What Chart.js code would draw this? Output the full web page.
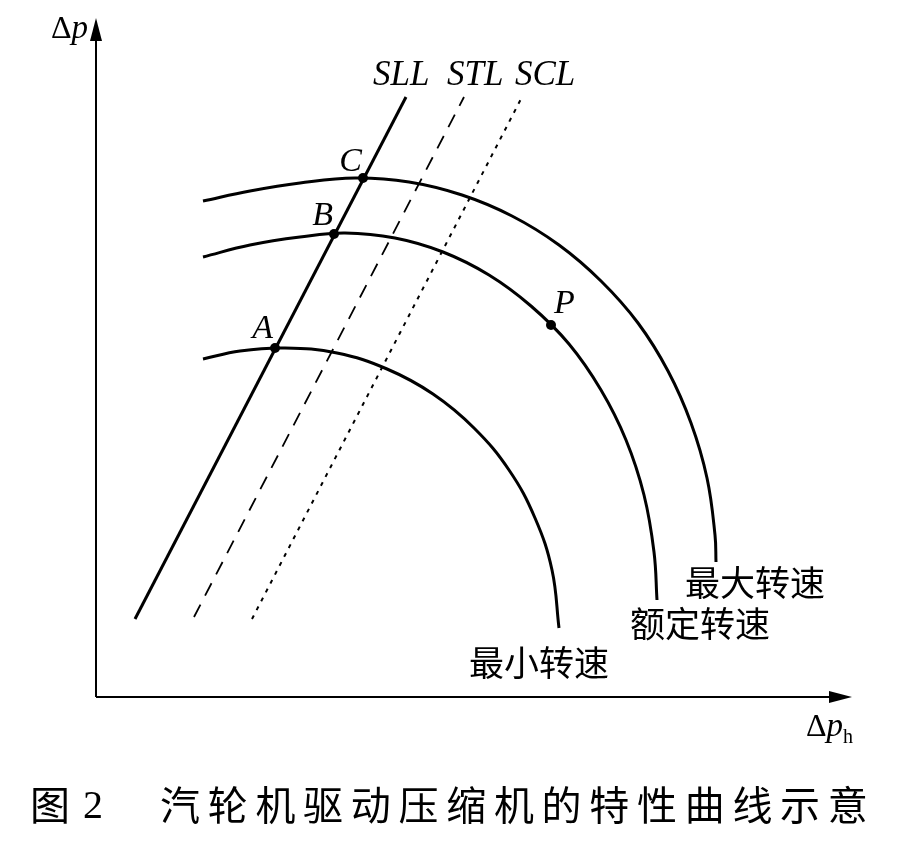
<!DOCTYPE html>
<html>
<head>
<meta charset="utf-8">
<script src="https://cdn.jsdelivr.net/npm/chart.js@4.4.1/dist/chart.umd.min.js"></script>
<style>
  html, body { margin: 0; padding: 0; background: #fff; }
  #wrap { width: 903px; height: 841px; }
</style>
</head>
<body>
<div id="wrap"><canvas id="chart" width="903" height="841"></canvas></div>
<script>
// speed curves (Δp_h on x, Δp on y, arbitrary units from the axis origin)
const maxSpeedX = [107, 154, 204, 259, 313, 366, 416, 463, 505, 542, 572, 595, 611, 619, 620];
const maxSpeedY = [496, 506, 514, 519, 515, 502, 481, 452, 416, 374, 326, 274, 219, 162, 135];

const ratedSpeedX = [107, 154, 204, 249, 299, 347, 393, 435, 473, 505, 530, 548, 558, 561];
const ratedSpeedY = [440, 452, 460, 464, 459, 445, 422, 391, 353, 307, 257, 202, 145, 97];

const minSpeedX = [107, 144, 189, 241, 291, 337, 378, 413, 439, 456, 463];
const minSpeedY = [338, 346, 349, 344, 328, 303, 269, 227, 179, 127, 69];

// SLL / STL / SCL lines (bottom, top)
const sllX = [39, 310];
const sllY = [78, 600];
const stlX = [98, 368];
const stlY = [80, 600];
const sclX = [156, 426];
const sclY = [78, 600];

// marked points
const pointNames = ['A', 'B', 'C', 'P'];
const pointX = [179, 238, 267, 455];
const pointY = [349, 463, 519, 372];

// axes
const axisEndX = 756;
const axisEndY = 679;

const toXY = (xs, ys) => xs.map((x, i) => ({ x: x, y: ys[i] }));

const serif = '"Liberation Serif", "DejaVu Serif", serif';
const cjk = '"Noto Sans CJK SC", sans-serif';

// text placed on the plot (data coordinates)
const textLabels = [
  { text: 'SLL', x: 277, y: 612, font: 'italic 35px ' + serif },
  { text: 'STL', x: 351, y: 612, font: 'italic 35px ' + serif },
  { text: 'SCL', x: 419, y: 612, font: 'italic 35px ' + serif },
  { text: '最大转速', x: 589, y: 114, font: '35px ' + cjk, base: 'middle' },
  { text: '额定转速', x: 534, y: 73, font: '35px ' + cjk, base: 'middle' },
  { text: '最小转速', x: 373, y: 34, font: '35px ' + cjk, base: 'middle' }
];
// label offsets from the marked points, pixels
const pointLabelOffset = { A: [-2, -10, 'right'], B: [-1, -9, 'right'], C: [-1, -7, 'right'], P: [3, -12, 'left'] };

const annotate = {
  id: 'annotate',
  afterDatasetsDraw(chart) {
    const ctx = chart.ctx;
    const xs = chart.scales.x;
    const ys = chart.scales.y;
    ctx.save();
    ctx.fillStyle = '#000';

    // arrowheads
    let tx = xs.getPixelForValue(0), ty = ys.getPixelForValue(axisEndY);
    ctx.beginPath();
    ctx.moveTo(tx, ty);
    ctx.lineTo(tx - 6, ty + 23);
    ctx.lineTo(tx + 6, ty + 23);
    ctx.closePath();
    ctx.fill();
    tx = xs.getPixelForValue(axisEndX); ty = ys.getPixelForValue(0);
    ctx.beginPath();
    ctx.moveTo(tx, ty);
    ctx.lineTo(tx - 23, ty - 6);
    ctx.lineTo(tx - 23, ty + 6);
    ctx.closePath();
    ctx.fill();

    // axis titles
    const runs = (list, px, py, align) => {
      let w = 0;
      list.forEach(r => { ctx.font = r.f; w += ctx.measureText(r.t).width; });
      let cx = align === 'right' ? px - w : px;
      ctx.textAlign = 'left';
      ctx.textBaseline = 'alphabetic';
      list.forEach(r => {
        ctx.font = r.f;
        ctx.fillText(r.t, cx, py + (r.dy || 0));
        cx += ctx.measureText(r.t).width;
      });
    };
    runs([{ t: 'Δ', f: '32px ' + serif }, { t: 'p', f: 'italic 33px ' + serif }],
      xs.getPixelForValue(-8), ys.getPixelForValue(659), 'right');
    runs([{ t: 'Δ', f: '32px ' + serif }, { t: 'p', f: 'italic 33px ' + serif },
      { t: 'h', f: '20px ' + serif, dy: 7 }],
      xs.getPixelForValue(710), ys.getPixelForValue(-39), 'left');

    // text labels
    textLabels.forEach(l => {
      ctx.font = l.font;
      ctx.textAlign = 'left';
      ctx.textBaseline = l.base || 'alphabetic';
      ctx.fillText(l.text, xs.getPixelForValue(l.x), ys.getPixelForValue(l.y));
    });

    // point labels
    ctx.font = 'italic 34px ' + serif;
    ctx.textBaseline = 'alphabetic';
    pointNames.forEach((n, i) => {
      const o = pointLabelOffset[n];
      ctx.textAlign = o[2];
      ctx.fillText(n, xs.getPixelForValue(pointX[i]) + o[0], ys.getPixelForValue(pointY[i]) + o[1]);
    });

    // caption
    ctx.textBaseline = 'middle';
    ctx.textAlign = 'left';
    const cy = ys.getPixelForValue(-108);
    ctx.font = '40px ' + cjk;
    ctx.fillText('图', xs.getPixelForValue(-66), cy);
    ctx.font = '40px ' + serif;
    ctx.fillText('2', xs.getPixelForValue(-13), cy + 2);
    ctx.font = '40px ' + cjk;
    const caption = '汽轮机驱动压缩机的特性曲线示意';
    let cx = xs.getPixelForValue(64);
    for (const ch of caption) {
      ctx.fillText(ch, cx, cy);
      cx += 47.7;
    }
    ctx.restore();
  }
};

const curveStyle = {
  showLine: true,
  borderColor: '#000',
  borderWidth: 3,
  pointRadius: 0,
  tension: 0.4,
  fill: false
};

new Chart(document.getElementById('chart'), {
  type: 'scatter',
  data: {
    datasets: [
      { label: 'x axis', data: toXY([0, axisEndX - 10], [0, 0]), showLine: true, borderColor: '#000', borderWidth: 2, pointRadius: 0 },
      { label: 'y axis', data: toXY([0, 0], [0, axisEndY - 10]), showLine: true, borderColor: '#000', borderWidth: 2, pointRadius: 0 },
      Object.assign({ label: '最大转速', data: toXY(maxSpeedX, maxSpeedY) }, curveStyle),
      Object.assign({ label: '额定转速', data: toXY(ratedSpeedX, ratedSpeedY) }, curveStyle),
      Object.assign({ label: '最小转速', data: toXY(minSpeedX, minSpeedY) }, curveStyle),
      { label: 'SLL', data: toXY(sllX, sllY), showLine: true, borderColor: '#000', borderWidth: 3, pointRadius: 0 },
      { label: 'STL', data: toXY(stlX, stlY), showLine: true, borderColor: '#000', borderWidth: 1.8, borderDash: [14, 10], pointRadius: 0 },
      { label: 'SCL', data: toXY(sclX, sclY), showLine: true, borderColor: '#000', borderWidth: 2, borderDash: [4, 6], pointRadius: 0 },
      { label: 'points', data: toXY(pointX, pointY), showLine: false, pointRadius: 5, pointBackgroundColor: '#000', pointBorderWidth: 0 }
    ]
  },
  options: {
    responsive: false,
    animation: false,
    layout: { padding: 0, autoPadding: false },
    scales: {
      x: { type: 'linear', min: -96, max: 807, display: false },
      y: { type: 'linear', min: -144, max: 697, display: false }
    },
    plugins: {
      legend: { display: false },
      tooltip: { enabled: false }
    }
  },
  plugins: [annotate]
});
</script>
</body>
</html>
